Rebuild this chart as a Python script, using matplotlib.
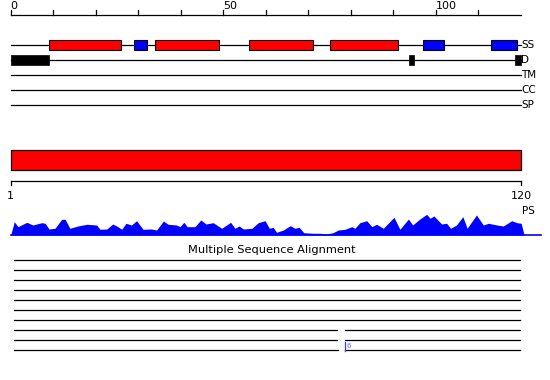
import matplotlib
matplotlib.use("Agg")
import matplotlib.pyplot as plt
from matplotlib.patches import Rectangle

# sequence length and ruler ticks
seq_len = 120
top_ticks = list(range(0, 120, 10))
top_labels = [0, 50, 100]

# feature tracks
track_names = ['SS', 'D', 'TM', 'CC', 'SP']
ss_helix = [(9, 26), (34, 49), (56, 71), (75, 91)]
ss_strand = [(29, 32), (97, 102), (113, 119)]
disorder = [(0, 9), (93.7, 94.8), (118.6, 120)]

# domain bar
domain = (1, 120)

# PS profile (residue position, score)
ps_pos = [0, 0.85, 1.7, 3.8, 5.2, 7.3, 8.1, 9.0, 10.4, 12.0, 12.8, 13.9, 15.8,
          17.9, 20.2, 21.0, 22.6, 24.0, 25.2, 26.1, 27.1, 28.4, 29.6, 31.1,
          33.1, 34.3, 35.9, 37.0, 39.0, 39.8, 40.7, 41.5, 43.3, 44.7, 45.9,
          47.6, 49.6, 51.7, 52.7, 53.7, 54.7, 56.7, 58.2, 59.8, 60.8, 61.7,
          62.5, 64.1, 65.7, 66.8, 67.8, 68.9, 71.1, 72.7, 74.3, 75.8, 77.0,
          78.6, 80.2, 80.9, 82.1, 83.7, 84.9, 86.0, 87.6, 90.1, 91.5, 93.5,
          94.5, 96.2, 97.8, 98.6, 99.5, 101.3, 102.5, 103.4, 104.8, 106.3,
          107.3, 109.5, 111.1, 112.3, 114.3, 115.8, 117.8, 119.0, 120.0, 120.7]
ps_val = [0, 13.3, 8.3, 12.7, 10, 12.3, 11.7, 6, 6.7, 15.7, 15.7, 6.7, 9,
          10.7, 10, 5.7, 6, 11, 8.3, 5.7, 11.7, 10, 14.3, 5.7,
          6, 5, 14, 10.7, 10, 8.3, 12.7, 8.3, 8.3, 15, 11,
          12.3, 6.7, 12.7, 6.7, 9, 6, 6.7, 12.3, 14.3, 6.7, 7.7,
          2.7, 5, 9.3, 6.7, 7.7, 2.3, 1.7, 1.7, 1, 2.3, 5,
          5.7, 8.3, 6.7, 12.3, 14.3, 8.3, 10.7, 6.7, 17.7, 5.7, 16,
          10, 16, 20.7, 16.7, 19, 11, 11.7, 6.7, 10, 18.3,
          6.7, 20, 10, 11.7, 10, 9, 14.3, 12.3, 11.7, 0]

# multiple sequence alignment rows, gaps per row
msa_rows = 10
msa_gaps = {7: (76.7, 78.4), 8: (76.7, 78.4), 9: (76.8, 78.5)}
msa_mark = (9, 78.5, '6')

W, H = 550, 380
fig = plt.figure(figsize=(5.5, 3.8), dpi=100)


def px_axes(x0, y0, x1, y1):
    ax = fig.add_axes([x0 / W, 1 - y1 / H, (x1 - x0) / W, (y1 - y0) / H])
    ax.set_axis_off()
    return ax


def boxes(ax, spans, row, color, h=0.333):
    for s, e in spans:
        ax.add_patch(Rectangle((s, row - h), e - s, 2 * h, facecolor=color,
                               edgecolor='black', lw=0.8, clip_on=False, zorder=3))


# ---- top: ruler + tracks ----
ax = px_axes(10.7, 0, 521, 120)
ax.set_xlim(0, seq_len)
ax.set_ylim(5, -3)
ax.plot([0, seq_len], [-2, -2], color='black', lw=0.9, clip_on=False)
for t in top_ticks:
    ax.plot([t, t], [-2, -2.36], color='black', lw=0.9, clip_on=False)
for t in top_labels:
    ax.text(t, -2.4, str(t), ha='left', va='baseline', fontsize=8)
for i, name in enumerate(track_names):
    ax.plot([0, seq_len], [i, i], color='black', lw=0.9, clip_on=False, zorder=1)
    ax.text(seq_len + 0.1, i, name, ha='left', va='center', fontsize=7.5)
boxes(ax, ss_helix, 0, '#ff0000')
boxes(ax, ss_strand, 0, '#0000ff')
for s, e in disorder:
    ax.add_patch(Rectangle((s, 1 - 0.333), e - s, 0.667, facecolor='black',
                           edgecolor='black', lw=0.5, clip_on=False, zorder=3))

# ---- domain bar + ruler ----
ax = px_axes(10.7, 140, 521, 220)
ax.set_xlim(domain)
ax.set_ylim(220, 140)
ax.add_patch(Rectangle((domain[0], 150), domain[1] - domain[0], 20,
                       facecolor='#ff0000', edgecolor='black', lw=0.9, clip_on=False))
ax.plot(domain, [180.7, 180.7], color='black', lw=0.9, clip_on=False)
for t in domain:
    ax.plot([t, t], [180.7, 185], color='black', lw=0.9, clip_on=False)
    ax.text(t, 196, str(t), ha='center', va='center', fontsize=8)

# ---- PS profile ----
ax = px_axes(10.7, 210, 540.7, 235)
ax.set_xlim(0, 124.6)
ax.set_ylim(0, 25)
ax.fill_between(ps_pos, ps_val, 0, color='#0000ff', lw=0)
ax.plot([0, 124.6], [0, 0], color='#0000ff', lw=1.2, clip_on=False)
ax.text(120.3, 24, 'PS', ha='left', va='center', fontsize=7.5, clip_on=False)

# ---- MSA ----
ax = px_axes(14, 255, 520, 355)
ax.set_xlim(0, seq_len)
ax.set_ylim(msa_rows - 0.5, -0.5)
ax.text(61.2, -1.0, 'Multiple Sequence Alignment', ha='center', va='center', fontsize=8.2)
for r in range(msa_rows):
    if r in msa_gaps:
        g0, g1 = msa_gaps[r]
        ax.plot([0, g0], [r, r], color='black', lw=0.9, clip_on=False)
        ax.plot([g1, seq_len], [r, r], color='black', lw=0.9, clip_on=False)
    else:
        ax.plot([0, seq_len], [r, r], color='black', lw=0.9, clip_on=False)
mr, mx, mt = msa_mark
ax.plot([mx, mx], [mr - 0.8, mr + 0.05], color='#3c3cff', lw=0.9, clip_on=False)
ax.text(mx + 0.4, mr - 0.45, mt, color='#6464ff', ha='left', va='center', fontsize=5)

fig.savefig('out.png', dpi=100)
